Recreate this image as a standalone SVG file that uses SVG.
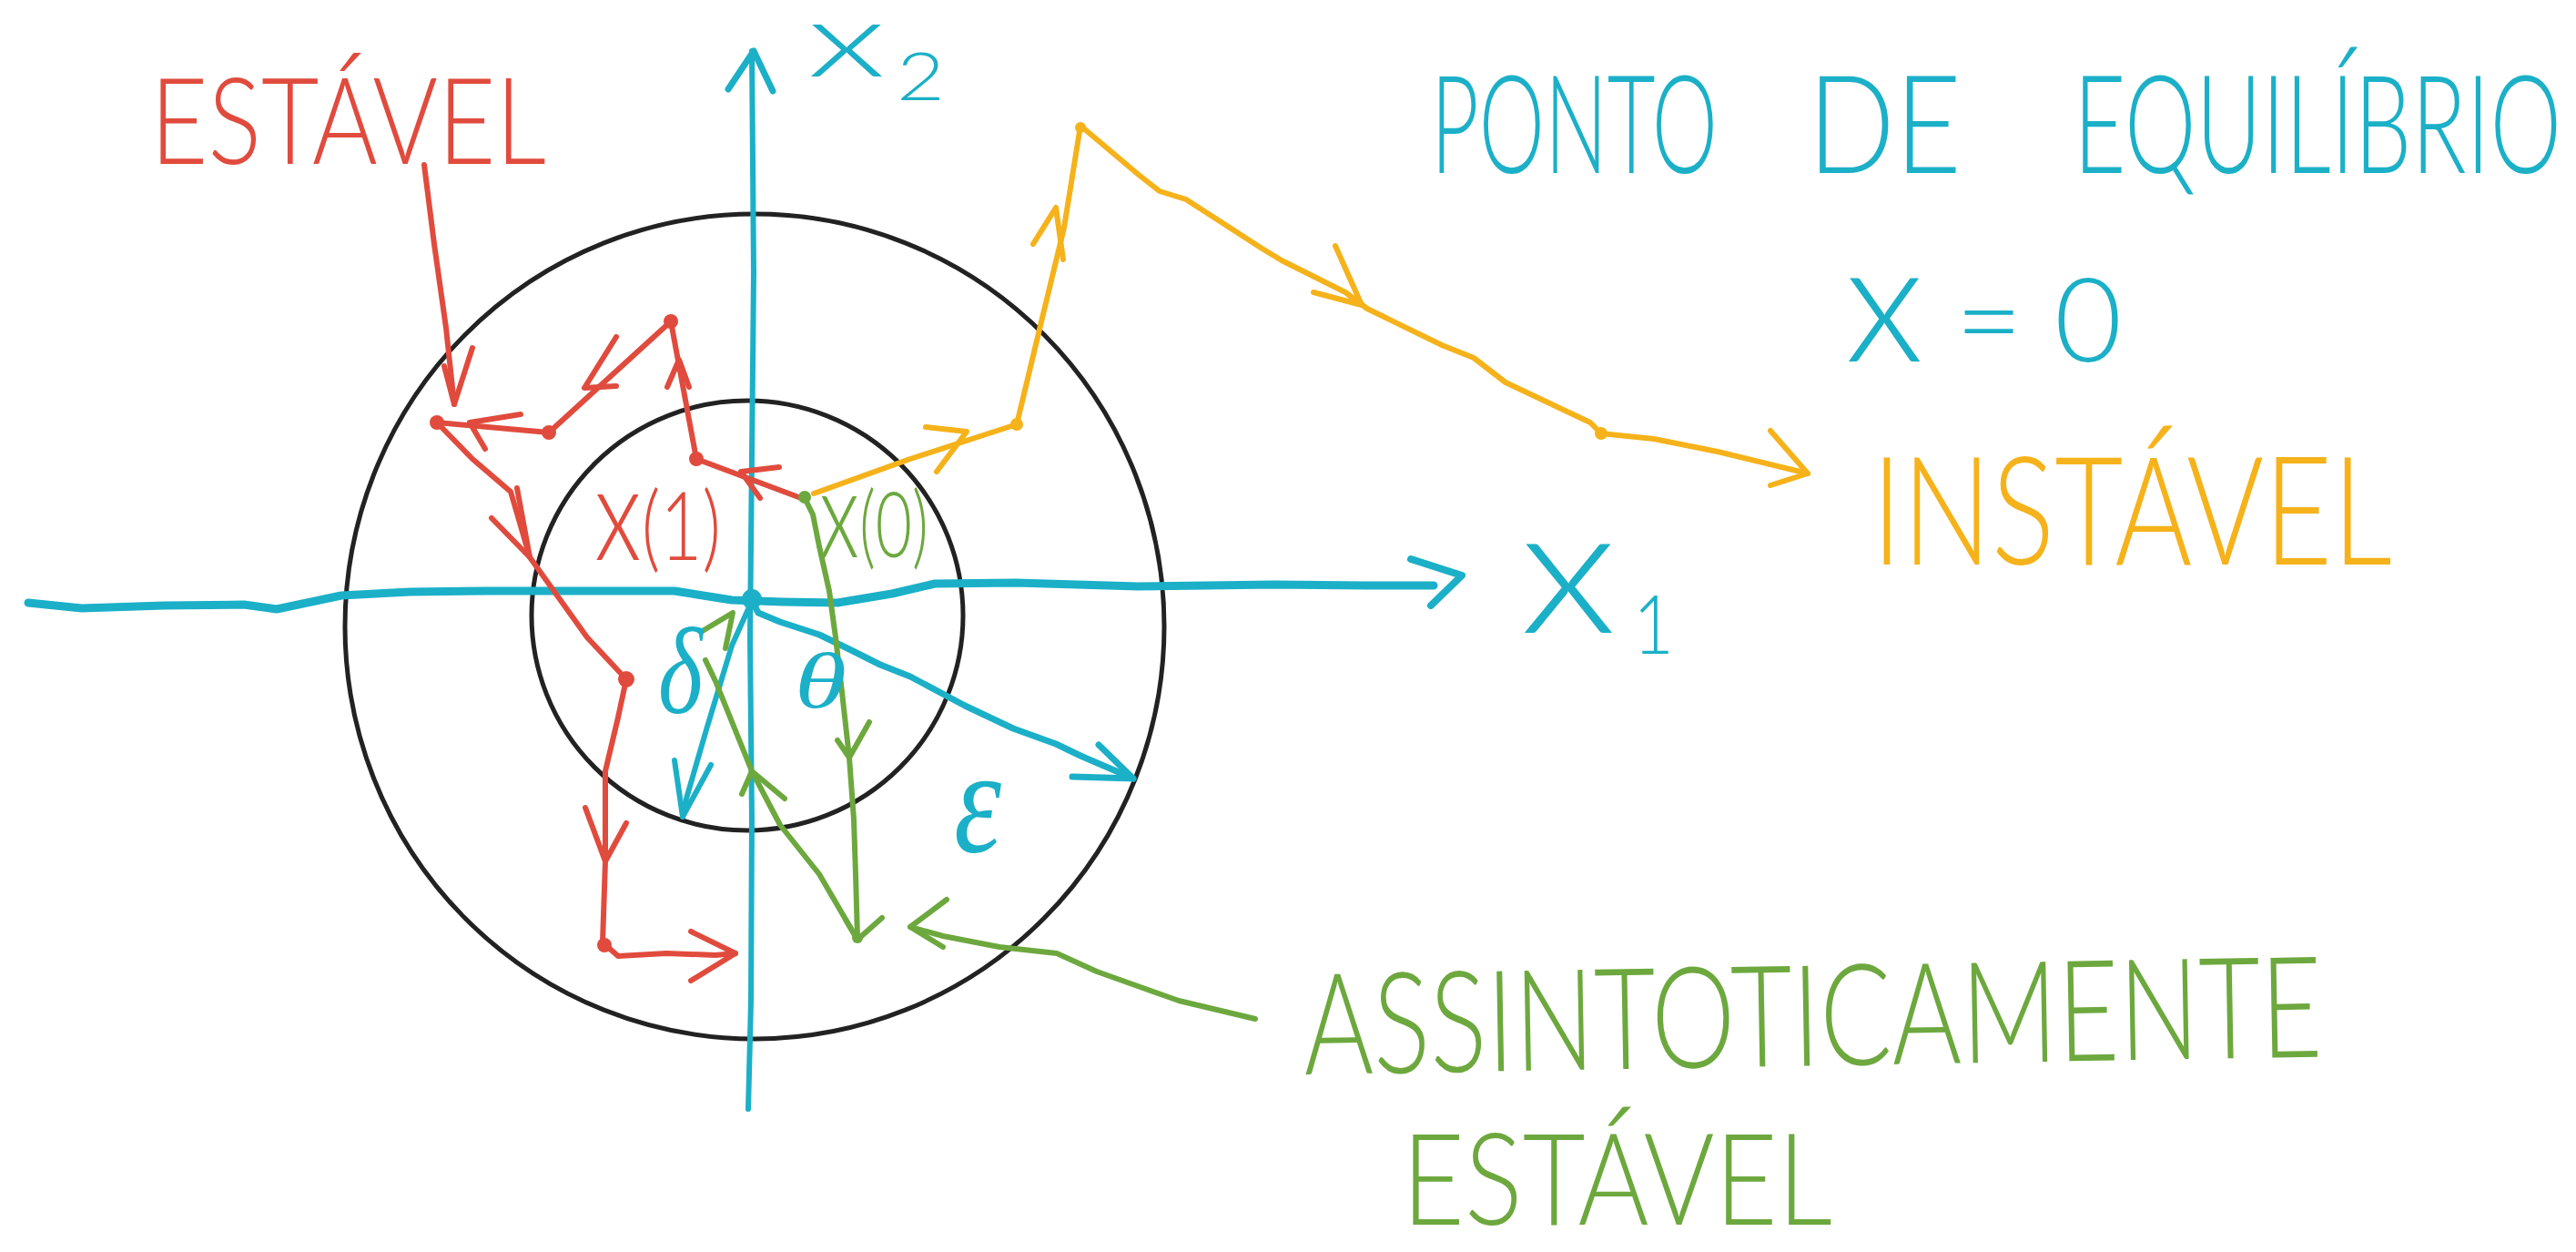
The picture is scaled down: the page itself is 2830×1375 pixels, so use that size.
<svg xmlns="http://www.w3.org/2000/svg" width="2830" height="1375" viewBox="0 0 2830 1375">
<style>
  .ln{fill:none;stroke-linecap:round;stroke-linejoin:round}
  .cy{stroke:#1BB0C7}
  .rd{stroke:#E04B3D}
  .or{stroke:#F5B21A}
  .gr{stroke:#6DA83E}
  .bk{stroke:#222222;stroke-width:5;fill:none}
  .t{font-family:Lato,"Liberation Sans",Arial,sans-serif;font-weight:300}
  .m{font-family:"Liberation Serif","Times New Roman",serif;font-style:italic;font-weight:normal}
  .tcy{fill:#1BB0C7}
  .trd{fill:#E04B3D}
  .tor{fill:#F5B21A}
  .tgr{fill:#6DA83E}
  .dr{fill:#E04B3D}
  .do{fill:#F5B21A}
  .dg{fill:#6DA83E}
  .dc{fill:#1BB0C7}
</style>
<rect width="2830" height="1375" fill="#ffffff"/>

<g id="circles">
  <ellipse id="outer-circle" class="bk" cx="829" cy="688" rx="450" ry="453"/>
  <ellipse id="inner-circle" class="bk" cx="821" cy="676" rx="237" ry="236"/>
</g>

<g id="axes">
  <g id="axis-x1">
    <polyline class="ln cy" stroke-width="9" points="31,662 90,668 180,665 268,664 304,669 375,654 450,650 536,649 640,649 741,649 804,659 860,661 920,662 980,652 1027,641 1116,640 1250,644 1400,642 1500,643 1575,643"/>
    <polyline class="ln cy" stroke-width="8" points="1550,614 1606,632 1572,665"/>
  </g>
  <g id="axis-x2">
    <polyline class="ln cy" stroke-width="6" points="822,1218 825,1100 826,900 824,700 826,500 828,300 826,56"/>
    <polyline class="ln cy" stroke-width="7" points="800,98 828,56 849,100"/>
  </g>
  <circle id="origin" class="dc" cx="826" cy="658" r="11"/>
</g>

<g id="connectors">
  <g id="delta-arrow">
    <polyline class="ln cy" stroke-width="6" points="826,660 804,709 777,798 754,877 750,897"/>
    <polyline class="ln cy" stroke-width="6" points="741,835 750,897 781,840"/>
  </g>
  <g id="epsilon-arrow">
    <polyline class="ln cy" stroke-width="7" points="826,660 833,673 857,683 900,697 933,713 967,730 1000,743 1060,775 1113,800 1160,817 1187,830 1245,855"/>
    <polyline class="ln cy" stroke-width="7" points="1178,853 1245,855 1207,818"/>
  </g>

  <g id="stable-trajectory">
    <polyline class="ln rd" stroke-width="6" points="880,547 765,504 737,353 603,475 480,464 519,504 561,540 582,612 645,700 688,746 679,788 665,847 665,946 662,1035 679,1050 732,1047 786,1049 808,1047"/>
    <polyline class="ln rd" stroke-width="6" points="856,513 814,518 835,547"/>
    <polyline class="ln rd" stroke-width="6" points="733,425 746,395 757,425"/>
    <polyline class="ln rd" stroke-width="6" points="677,370 642,426 677,424"/>
    <polyline class="ln rd" stroke-width="6" points="572,455 516,464 533,493"/>
    <polyline class="ln rd" stroke-width="6" points="540,569 582,612 568,536"/>
    <polyline class="ln rd" stroke-width="6" points="643,887 665,946 688,904"/>
    <polyline class="ln rd" stroke-width="6" points="759,1023 808,1047 759,1077"/>
  </g>
  <g id="stable-label-arrow">
    <polyline class="ln rd" stroke-width="6" points="466,181 477,268 490,360 499,444"/>
    <polyline class="ln rd" stroke-width="6" points="488,402 499,444 519,382"/>
  </g>

  <g id="unstable-trajectory">
    <polyline class="ln or" stroke-width="6" points="894,542 1000,504 1117,466 1140,370 1169,250 1187,138 1251,192 1274,210 1303,219 1385,272 1408,286 1478,321 1502,339 1584,379 1619,393 1654,420 1747,464 1759,476 1817,482 1887,496 1986,520"/>
    <polyline class="ln or" stroke-width="6" points="1017,469 1062,474 1029,518"/>
    <polyline class="ln or" stroke-width="6" points="1135,268 1160,228 1168,285"/>
    <polyline class="ln or" stroke-width="6" points="1467,270 1496,335 1443,321"/>
    <polyline class="ln or" stroke-width="6" points="1945,473 1986,520 1945,533"/>
  </g>

  <g id="asymptotic-trajectory">
    <polyline class="ln gr" stroke-width="6" points="884,547 893,565 900,600 911,649 918,700 925,760 933,832 938,900 940,960 942,1030"/>
    <polyline class="ln gr" stroke-width="6" points="920,813 933,832 955,793"/>
    <polyline class="ln gr" stroke-width="6" points="929,1010 942,1032 969,1008"/>
    <polyline class="ln gr" stroke-width="6" points="942,1032 900,960 857,906 826,847 786,748 775,725"/>
    <polyline class="ln gr" stroke-width="6" points="815,872 826,847 862,877"/>
    <polyline class="ln gr" stroke-width="6" points="770,694 805,673 797,712"/>
  </g>
  <g id="asymptotic-label-arrow">
    <polyline class="ln gr" stroke-width="6" points="1379,1119 1295,1099 1205,1067 1161,1047 1098,1040 1036,1028 1000,1018"/>
    <polyline class="ln gr" stroke-width="6" points="1040,988 1000,1018 1036,1040"/>
  </g>
</g>

<g id="points">
  <circle class="dr" cx="765" cy="504" r="8"/>
  <circle class="dr" cx="737" cy="353" r="8"/>
  <circle class="dr" cx="603" cy="475" r="8"/>
  <circle class="dr" cx="480" cy="464" r="8"/>
  <circle class="dr" cx="688" cy="746" r="9"/>
  <circle class="dr" cx="664" cy="1038" r="8"/>
  <circle class="do" cx="1117" cy="466" r="7"/>
  <circle class="do" cx="1187" cy="140" r="6"/>
  <circle class="do" cx="1759" cy="476" r="7"/>
  <circle class="dg" cx="884" cy="546" r="7"/>
  <circle class="dg" cx="942" cy="1030" r="6"/>
</g>

<g id="labels">
  <g id="label-x2">
    <text class="t tcy" x="887" y="84" font-size="115" textLength="86" lengthAdjust="spacingAndGlyphs">x</text>
    <text class="t tcy" x="985" y="110" font-size="72" textLength="53" lengthAdjust="spacingAndGlyphs">2</text>
  </g>
  <g id="label-x1">
    <text class="t tcy" x="1670" y="695" font-size="195" textLength="106" lengthAdjust="spacingAndGlyphs">x</text>
    <text class="t tcy" x="1794" y="718" font-size="90" textLength="45" lengthAdjust="spacingAndGlyphs">1</text>
  </g>
  <g id="label-estavel-red">
    <text class="t trd" x="165" y="180" font-size="132" textLength="435" lengthAdjust="spacingAndGlyphs">ESTÁVEL</text>
  </g>
  <g id="label-ponto">
    <text class="t tcy" x="1572" y="190" font-size="150" textLength="315" lengthAdjust="spacingAndGlyphs">PONTO</text>
    <text class="t tcy" x="1986" y="190" font-size="150" textLength="169" lengthAdjust="spacingAndGlyphs">DE</text>
    <text class="t tcy" x="2278" y="190" font-size="150" textLength="536" lengthAdjust="spacingAndGlyphs">EQUILÍBRIO</text>
  </g>
  <g id="label-x-eq-0">
    <text class="t tcy" x="2027" y="397"><tspan font-size="184">x</tspan><tspan font-size="128"> = 0</tspan></text>
  </g>
  <g id="label-instavel">
    <text class="t tor" x="2056" y="620" font-size="165" textLength="572" lengthAdjust="spacingAndGlyphs">INSTÁVEL</text>
  </g>
  <g id="label-assint">
    <text class="t tgr" x="1433" y="1180" font-size="155" textLength="1119" lengthAdjust="spacingAndGlyphs" transform="rotate(-1 1433 1180)">ASSINTOTICAMENTE</text>
    <text class="t tgr" x="1540" y="1345" font-size="140" textLength="473" lengthAdjust="spacingAndGlyphs">ESTÁVEL</text>
  </g>
  <g id="label-x1-point">
    <text class="t trd" x="653" y="615" textLength="139" lengthAdjust="spacingAndGlyphs"><tspan font-size="145">x</tspan><tspan font-size="105">(1)</tspan></text>
  </g>
  <g id="label-x0-point">
    <text class="t tgr" x="900" y="612" textLength="120" lengthAdjust="spacingAndGlyphs"><tspan font-size="135">x</tspan><tspan font-size="100">(0)</tspan></text>
  </g>
  <g id="label-delta">
    <text class="m tcy" x="723" y="783" font-size="135" textLength="49" lengthAdjust="spacingAndGlyphs">δ</text>
  </g>
  <g id="label-theta">
    <text class="m tcy" x="873" y="777" font-size="86" textLength="57" lengthAdjust="spacingAndGlyphs">θ</text>
  </g>
  <g id="label-epsilon">
    <text class="m tcy" x="1048" y="935" font-size="165" textLength="52" lengthAdjust="spacingAndGlyphs">ε</text>
  </g>
</g>
</svg>
